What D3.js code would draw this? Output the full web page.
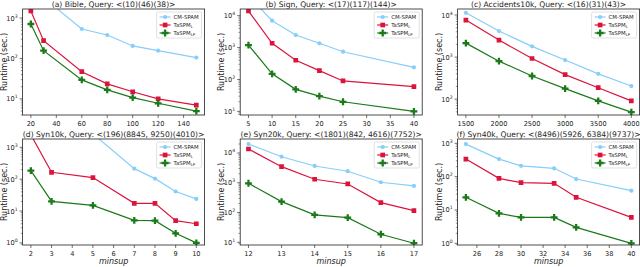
<!DOCTYPE html>
<html>
<head>
<meta charset="utf-8">
<script src="https://cdn.jsdelivr.net/npm/d3@7"></script>
<style>
  body { margin: 0; background: #fff; }
  svg { font-family: "DejaVu Sans", sans-serif; display: block; }
</style>
</head>
<body>
<svg id="chart" width="640" height="267"></svg>
<script>
// values (runtime in seconds, log scale)
const bibleX = [20, 30, 60, 80, 100, 120, 150];
const bibleCM = [8000, 3200, 535, 380, 204, 156, 105];
const bibleL = [1490, 275, 47, 23.5, 15, 10, 7];
const bibleLP = [711, 156, 29.5, 16.7, 10.8, 7.8, 5];

const signX = [5, 10, 15, 20, 25, 40];
const signCM = [42000, 6970, 2480, 1365, 742, 240];
const signL = [14000, 1365, 400, 190, 90, 60];
const signLP = [1200, 150, 49, 30, 20, 10];

const accX = [1500, 2000, 2500, 3000, 3500, 4000];
const accCM = [11300, 4150, 1800, 850, 400, 205];
const accL = [7600, 2540, 925, 383, 187, 91];
const accLP = [2150, 800, 355, 178, 91, 49];

const syn10X = [2, 3, 5, 7, 8, 9, 10];
const syn10CM = [20000, 8000, 2650, 214, 104, 41, 24];
const syn10L = [2460, 164, 112, 17.5, 17.5, 5, 4];
const syn10LP = [185, 20, 15, 5.1, 5, 2, 1.0];

const syn20X = [12, 13, 14, 15, 16, 17];
const syn20CM = [20000, 7500, 3660, 2440, 1040, 780];
const syn20L = [13600, 3470, 1310, 910, 215, 115];
const syn20LP = [960, 232, 83, 67, 18.6, 9.3];

const syn40X = [25, 28, 30, 33, 35, 40];
const syn40CM = [950, 337, 212, 178, 85, 38];
const syn40L = [337, 89, 66, 63, 24, 6];
const syn40LP = [24, 7.9, 6, 6, 3, 1];

const titles = [
  "(a) Bible, Query: <(10)(46)(38)>",
  "(b) Sign, Query: <(17)(117)(144)>",
  "(c) Accidents10k, Query: <(16)(31)(43)>",
  "(d) Syn10k, Query: <(196)(8845, 9250)(4010)>",
  "(e) Syn20k, Query: <(1801)(842, 4616)(7752)>",
  "(f) Syn40k, Query: <(8496)(5926, 6384)(9737)>"
];
const xTicks = [
  [20, 40, 60, 80, 100, 120, 140],
  [5, 10, 15, 20, 25, 30, 35, 40],
  [1500, 2000, 2500, 3000, 3500, 4000],
  [2, 3, 4, 5, 6, 7, 8, 9, 10],
  [12, 13, 14, 15, 16, 17],
  [26, 28, 30, 32, 34, 36, 38, 40]
];
const yLimits = [
  [4.0, 1670], [7.7, 16200], [42, 13900],
  [0.86, 1820], [8.1, 29500], [0.89, 1350]
];
const seriesNames = ["CM-SPAM", "TaSPM", "TaSPM"];
const seriesSubs = ["", "L", "LP"];
const colors = ["#87cefa", "#dc143c", "#1a7a1a"];

const panels = [
  { x: bibleX, ys: [bibleCM, bibleL, bibleLP] },
  { x: signX, ys: [signCM, signL, signLP] },
  { x: accX, ys: [accCM, accL, accLP] },
  { x: syn10X, ys: [syn10CM, syn10L, syn10LP] },
  { x: syn20X, ys: [syn20CM, syn20L, syn20LP] },
  { x: syn40X, ys: [syn40CM, syn40L, syn40LP] }
];

const svg = d3.select("#chart");
const colLeft = [22.6, 240.2, 457.6];
const rowTop = [9, 139];
const pw = 182, ph = 106;

const symbols = [d3.symbolCircle, d3.symbolSquare, d3.symbolCross];
const symSize = [14, 22, 26];

panels.forEach((p, i) => {
  const left = colLeft[i % 3];
  const top = rowTop[Math.floor(i / 3)];
  const g = svg.append("g").attr("transform", `translate(${left},${top})`);

  const xmin = d3.min(p.x), xmax = d3.max(p.x);
  const pad = (xmax - xmin) * 0.05;
  const x = d3.scaleLinear().domain([xmin - pad, xmax + pad]).range([0, pw]);
  const y = d3.scaleLog().domain(yLimits[i]).range([ph, 0]);

  g.append("clipPath").attr("id", "clip" + i)
    .append("rect").attr("width", pw).attr("height", ph);

  // x axis
  const xa = g.append("g").attr("transform", `translate(0,${ph})`);
  xTicks[i].forEach(t => {
    xa.append("line").attr("x1", x(t)).attr("x2", x(t)).attr("y1", 0).attr("y2", 3)
      .attr("stroke", "#333").attr("stroke-width", 0.7);
    xa.append("text").attr("x", x(t)).attr("y", 10.5).attr("text-anchor", "middle")
      .attr("font-size", 6.6).attr("fill", "#222").text(t);
  });

  // y axis (log)
  const [lo, hi] = yLimits[i];
  const ya = g.append("g");
  for (let e = Math.floor(Math.log10(lo)); e <= Math.ceil(Math.log10(hi)); e++) {
    for (let k = 1; k < 10; k++) {
      const v = k * Math.pow(10, e);
      if (v < lo || v > hi) continue;
      ya.append("line").attr("x1", 0).attr("x2", k === 1 ? -3 : -1.8)
        .attr("y1", y(v)).attr("y2", y(v))
        .attr("stroke", "#333").attr("stroke-width", k === 1 ? 0.7 : 0.5);
      if (k === 1) {
        const t = ya.append("text").attr("x", -5).attr("y", y(v) + 2.5)
          .attr("text-anchor", "end").attr("font-size", 6.6).attr("fill", "#222");
        t.append("tspan").text("10");
        t.append("tspan").attr("dy", -3).attr("font-size", 4.6).text(e);
      }
    }
  }

  g.append("text")
    .attr("transform", `translate(-16,${ph / 2}) rotate(-90)`)
    .attr("text-anchor", "middle").attr("font-size", 8).attr("fill", "#222")
    .text("Runtime (sec.)");

  g.append("text").attr("x", pw / 2).attr("y", -2.3).attr("text-anchor", "middle")
    .attr("font-size", 7.6).attr("fill", "#222").text(titles[i]);

  if (i >= 3) {
    g.append("text").attr("x", pw / 2).attr("y", ph + 19).attr("text-anchor", "middle")
      .attr("font-size", 8).attr("font-style", "italic").attr("fill", "#222")
      .text("minsup");
  }

  // lines and markers
  const plot = g.append("g").attr("clip-path", `url(#clip${i})`);
  p.ys.forEach((vals, s) => {
    const pts = p.x.map((xv, j) => [xv, vals[j]]);
    plot.append("path").datum(pts)
      .attr("fill", "none").attr("stroke", colors[s]).attr("stroke-width", 1.2)
      .attr("d", d3.line().x(d => x(d[0])).y(d => y(d[1])));
    plot.selectAll(null).data(pts).enter().append("path")
      .attr("transform", d => `translate(${x(d[0])},${y(d[1])})`)
      .attr("d", d3.symbol().type(symbols[s]).size(symSize[s]))
      .attr("fill", colors[s]);
  });

  // frame
  g.append("rect").attr("width", pw).attr("height", ph)
    .attr("fill", "none").attr("stroke", "#222").attr("stroke-width", 0.8);

  // legend
  const lw = 45, lh = 26;
  const lg = g.append("g").attr("transform", `translate(${pw - lw - 3},3)`);
  lg.append("rect").attr("width", lw).attr("height", lh).attr("rx", 1.5)
    .attr("fill", "#fff").attr("fill-opacity", 0.8)
    .attr("stroke", "#ccc").attr("stroke-width", 0.6);
  seriesNames.forEach((name, s) => {
    const cy = 5 + s * 8;
    lg.append("line").attr("x1", 3).attr("x2", 14).attr("y1", cy).attr("y2", cy)
      .attr("stroke", colors[s]).attr("stroke-width", 1.2);
    lg.append("path").attr("transform", `translate(8.5,${cy})`)
      .attr("d", d3.symbol().type(symbols[s]).size(symSize[s]))
      .attr("fill", colors[s]);
    const t = lg.append("text").attr("x", 17).attr("y", cy + 2)
      .attr("font-size", 5.4).attr("fill", "#222");
    t.append("tspan").text(name);
    if (seriesSubs[s]) {
      t.append("tspan").attr("dy", 1.2).attr("font-size", 3.8).text(seriesSubs[s]);
    }
  });
});
</script>
</body>
</html>
